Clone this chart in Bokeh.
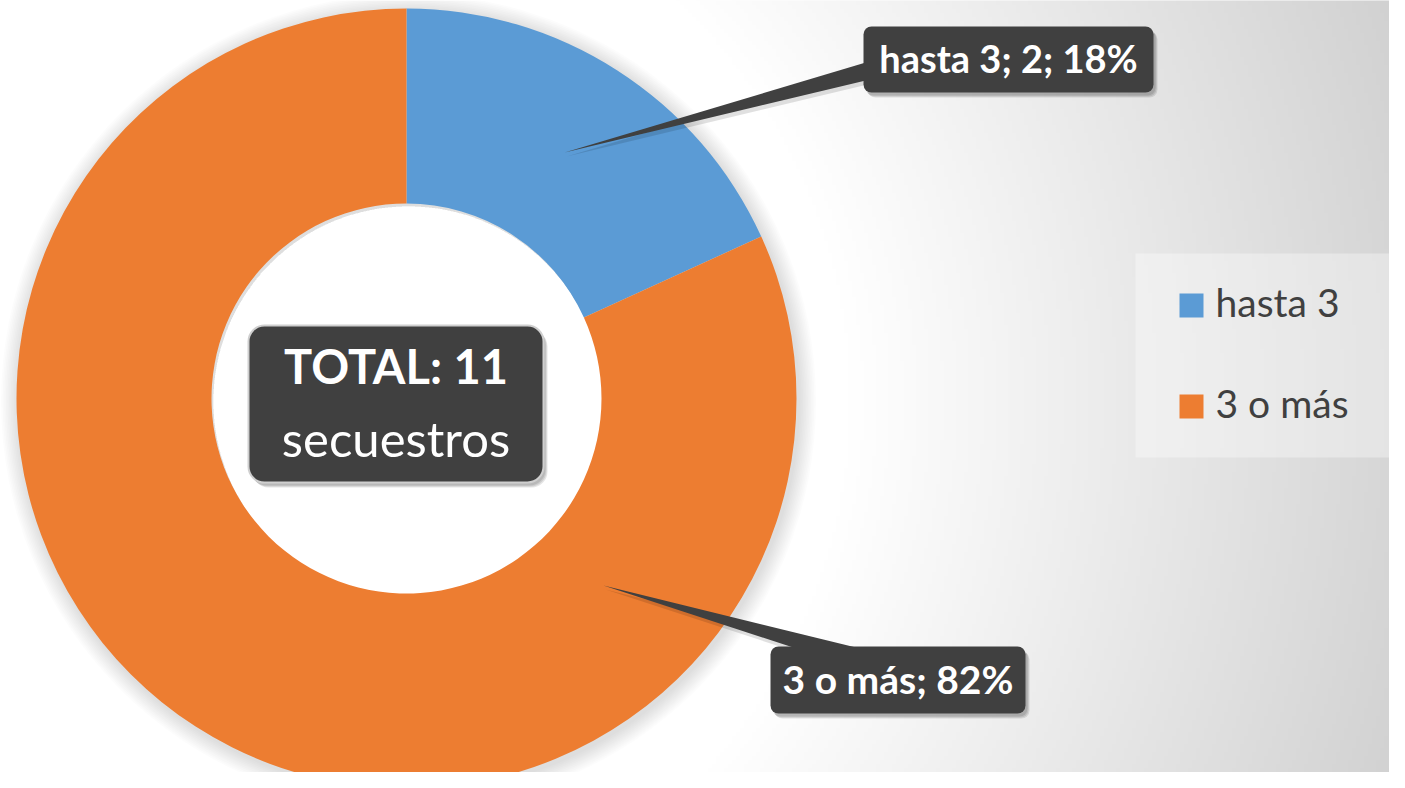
import numpy as np
from bokeh.plotting import figure
from bokeh.models import Range1d
from bokeh.embed import file_html
from bokeh.resources import INLINE
from bokeh.core.properties import value

# ---------------- data ----------------
categories = ["hasta 3", "3 o más"]
counts = [2, 9]
colors = ["#5B9BD5", "#ED7D31"]
total_title = "TOTAL: 11"
total_sub = "secuestros"

total = sum(counts)
pcts = [round(100 * c / total) for c in counts]
label_texts = [f"{categories[0]}; {counts[0]}; {pcts[0]}%", f"{categories[1]}; {pcts[1]}%"]

# ---------------- layout (pixel space of the picture) ----------------
W, H = 1389, 772
FONT = "Lato"
DARK = "#404040"
BASE_FIX = 0.41  # baseline correction (fraction of font size)


def Y(y):
    return H - y


def TB(y, size):
    return Y(y - BASE_FIX * size)


p = figure(width=W, height=H, x_range=Range1d(0, W), y_range=Range1d(0, H),
           output_backend="svg", toolbar_location=None, min_border=0)
p.axis.visible = False
p.grid.visible = False
p.outline_line_color = None
p.background_fill_color = "white"
p.border_fill_color = "white"

# background gradient
step = 4
nx, ny = W // step + 1, H // step + 1
xs = (np.arange(nx) + 0.5) * step
yd = (np.arange(ny) + 0.5) * step
XX, YD = np.meshgrid(xs, yd)
YI = H - YD
d = np.hypot(XX - 300, YI - 400)
g = np.clip(255 - 0.075 * np.maximum(0, d - 550), 0, 255).astype(np.uint8)
img = np.empty((ny, nx), dtype=np.uint32)
v = img.view(dtype=np.uint8).reshape((ny, nx, 4))
v[:, :, 0] = g
v[:, :, 1] = g
v[:, :, 2] = g
v[:, :, 3] = 255
p.image_rgba(image=[img], x=0, y=0, dw=nx * step, dh=ny * step)

# donut
cx, cy = 406, 398
r_in, r_out = 195, 390

for i in range(1, 12):
    p.annulus(x=cx + 2, y=Y(cy + 3), inner_radius=r_in, outer_radius=r_out + 1.6 * i,
              fill_color="black", fill_alpha=0.012, line_color=None)

starts, ends = [], []
cum = 0
for c in counts:
    a0 = np.pi / 2 - 2 * np.pi * cum / total
    cum += c
    a1 = np.pi / 2 - 2 * np.pi * cum / total
    starts.append(a0)
    ends.append(a1)

p.annular_wedge(x=cx, y=Y(cy), inner_radius=r_in, outer_radius=r_out,
                start_angle=starts, end_angle=ends, direction="clock",
                fill_color=colors, line_color=None)

mid1 = (starts[0] + ends[0]) / 2
rm = (r_in + r_out) / 2
tip1 = (cx + rm * np.cos(mid1), cy - rm * np.sin(mid1))
tip2 = (603, 585)

callouts = [
    dict(box=(863, 1153, 26, 92), base=[(882, 57), (882, 76)], tip=tip1, baseline=73, size=38),
    dict(box=(770, 1025, 646, 713), base=[(808, 652), (876, 652)], tip=tip2, baseline=694, size=39),
]

for co in callouts:
    (bx0, by0), (bx1, by1) = co["base"]
    tx, ty = co["tip"]
    p.patch(x=[tx + 2, bx0 + 2, bx1 + 2], y=[Y(ty + 4), Y(by0 + 4), Y(by1 + 4)],
            fill_color="black", fill_alpha=0.12, line_color=None)
    p.patch(x=[tx, bx0, bx1], y=[Y(ty), Y(by0), Y(by1)], fill_color=DARK, line_color=None)
    l, r, t, b = co["box"]
    for k in range(3):
        p.quad(left=l + 2 + k, right=r + 2 + k, top=Y(t + 3 + k), bottom=Y(b + 3 + k),
               fill_color="black", fill_alpha=0.10, line_color=None, border_radius=8)
    p.quad(left=l, right=r, top=Y(t), bottom=Y(b), fill_color=DARK, line_color=None,
           border_radius=8)

for co, txt in zip(callouts, label_texts):
    l, r, t, b = co["box"]
    p.text(x=[(l + r) / 2], y=[TB(co["baseline"], co["size"])], text=[txt], text_align="center",
           text_baseline="alphabetic", text_font=value(FONT), text_font_style="bold",
           text_font_size=f"{co['size']}px", text_color="white")

# center total box
l, r, t, b = 248, 543, 325, 482
for k in range(3):
    p.quad(left=l + 2 + k, right=r + 2 + k, top=Y(t + 3 + k), bottom=Y(b + 3 + k),
           fill_color="black", fill_alpha=0.10, line_color=None, border_radius=16)
p.quad(left=l, right=r, top=Y(t), bottom=Y(b), fill_color=DARK, line_color="#cfcfcf",
       line_width=2, border_radius=16)
p.text(x=[(l + r) / 2], y=[TB(385, 47)], text=[total_title], text_align="center",
       text_baseline="alphabetic", text_font=value(FONT), text_font_style="bold",
       text_font_size="47px", text_color="white")
p.text(x=[(l + r) / 2], y=[TB(458, 49)], text=[total_sub], text_align="center",
       text_baseline="alphabetic", text_font=value(FONT), text_font_size="49px",
       text_color="white")

# legend
p.quad(left=1135, right=W, top=Y(253), bottom=Y(457), fill_color="white",
       fill_alpha=0.35, line_color=None)
leg_y = [305, 406]
p.rect(x=[1191] * len(categories), y=[Y(v_) for v_ in leg_y], width=24, height=24,
       fill_color=colors, line_color=None)
p.text(x=[1215] * len(categories), y=[TB(v_ + 12, 39) for v_ in leg_y], text=categories,
       text_align="left", text_baseline="alphabetic", text_font=value(FONT),
       text_font_size="39px", text_color=DARK)

open("out.html", "w").write(file_html(p, INLINE))
